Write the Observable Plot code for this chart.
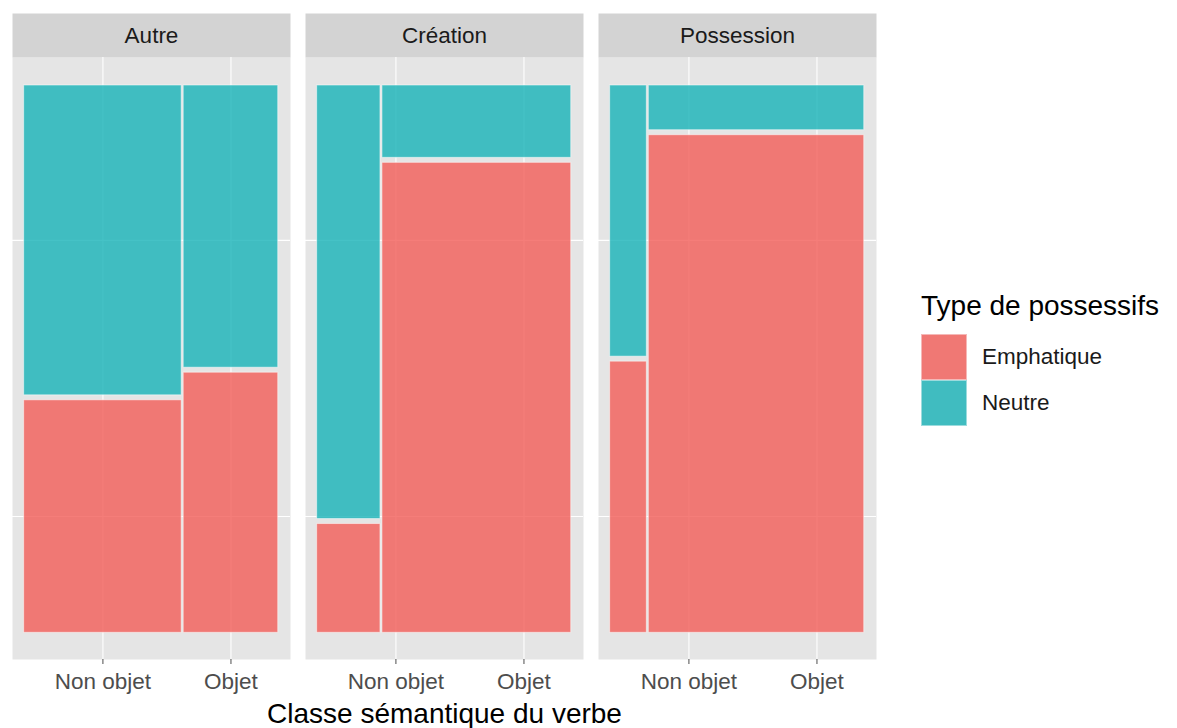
<!DOCTYPE html>
<html><head><meta charset="utf-8">
<script src="https://cdn.jsdelivr.net/npm/d3@7"></script>
<script src="https://cdn.jsdelivr.net/npm/@observablehq/plot@0.6"></script>
<style>
body{margin:0;background:#fff;font-family:"Liberation Sans",Arial,sans-serif;}
#wrap{position:relative;width:1177px;height:728px;overflow:hidden;}
#chart{position:absolute;left:0;top:0;}
#legend{position:absolute;left:921px;top:292px;}
</style></head><body><div id="wrap"><div id="chart"></div><div id="legend"></div></div>
<script>
const classes = ["Autre","Création","Possession"];
const objetLevels = ["Non objet","Objet"];
const typeLevels = ["Emphatique","Neutre"];
const nonObjetShare = [0.623, 0.255, 0.151];
const emphShareNonObjet = [0.430, 0.206, 0.500];
const emphShareObjet = [0.480, 0.860, 0.910];
const typeColors = ["#F35D58","#17B3B8"];
const xTitle = "Classe sémantique du verbe";
const legendTitle = "Type de possessifs";

const cells = [];
classes.forEach((cls, i) => {
  const xs = [[0, nonObjetShare[i]], [nonObjetShare[i], 1]];
  const es = [emphShareNonObjet[i], emphShareObjet[i]];
  objetLevels.forEach((obj, j) => {
    const ys = [[0, es[j]], [es[j], 1]];
    typeLevels.forEach((t, k) => {
      cells.push({cls, obj, type: t, x1: xs[j][0], x2: xs[j][1], y1: ys[k][0], y2: ys[k][1]});
    });
  });
});
// ggmosaic places the axis breaks at the centres of the first panel's pieces
const xTicks = [nonObjetShare[0] / 2, (nonObjetShare[0] + 1) / 2];
const yTicks = [emphShareNonObjet[0] / 2, (emphShareNonObjet[0] + 1) / 2];

const font = "'Liberation Sans', Arial, sans-serif";
const chart = Plot.plot({
  width: 880, height: 728,
  marginLeft: 11, marginRight: 2, marginTop: 57, marginBottom: 69,
  style: {fontFamily: font, background: "transparent"},
  fx: {domain: classes, paddingInner: 0.051, paddingOuter: 0, axis: null, label: null},
  x: {domain: [-0.0416, 1.044], axis: null},
  y: {domain: [-0.0438, 1.0462], axis: null},
  color: {domain: typeLevels, range: typeColors},
  marks: [
    Plot.frame({fill: "#E5E5E5"}),
    Plot.frame({fill: "#D3D3D3", insetTop: -44, insetBottom: 602}),
    Plot.text(classes, {fx: d => d, text: d => d, frameAnchor: "top", dy: -22, lineAnchor: "middle", fontSize: 22.5, fill: "#1A1A1A"}),
    Plot.gridX(xTicks, {stroke: "white", strokeOpacity: 1, strokeWidth: 1.1}),
    Plot.gridY(yTicks, {stroke: "white", strokeOpacity: 1, strokeWidth: 1.1}),
    Plot.rect(cells, {fx: "cls", x1: "x1", x2: "x2", y1: "y1", y2: "y2", fill: "type", fillOpacity: 0.8,
      stroke: "white", strokeOpacity: 0.5, strokeWidth: 1,
      insetTop: 2.5, insetBottom: 2.5, insetLeft: 1, insetRight: 1}),
    Plot.axisX(xTicks, {tickFormat: d => objetLevels[xTicks.indexOf(d)], tickSize: 5, tickPadding: 9,
      fontSize: 22.5, color: "#4D4D4D", label: null}),
    Plot.text([xTitle], {facet: "super", frameAnchor: "bottom", dy: 63, lineAnchor: "bottom", fontSize: 28, fill: "#000"})
  ]
});
document.getElementById("chart").appendChild(chart);

const leg = d3.select("#legend");
leg.append("div").text(legendTitle)
  .style("font-size", "28px").style("line-height", "28px").style("color", "#000").style("white-space", "nowrap");
const items = leg.append("div").style("margin-top", "14px");
typeLevels.forEach((t, i) => {
  const row = items.append("div").style("display", "flex").style("align-items", "center").style("height", "46px");
  row.append("div").style("width", "46px").style("height", "46px").style("background", "#E5E5E5")
    .append("div").style("width", "100%").style("height", "100%").style("box-sizing", "border-box")
    .style("background", typeColors[i]).style("opacity", 0.8).style("border", "1px solid rgba(255,255,255,0.5)");
  row.append("div").text(t).style("margin-left", "15px").style("font-size", "22.5px")
    .style("line-height", "46px").style("color", "#1A1A1A");
});
</script></body></html>
